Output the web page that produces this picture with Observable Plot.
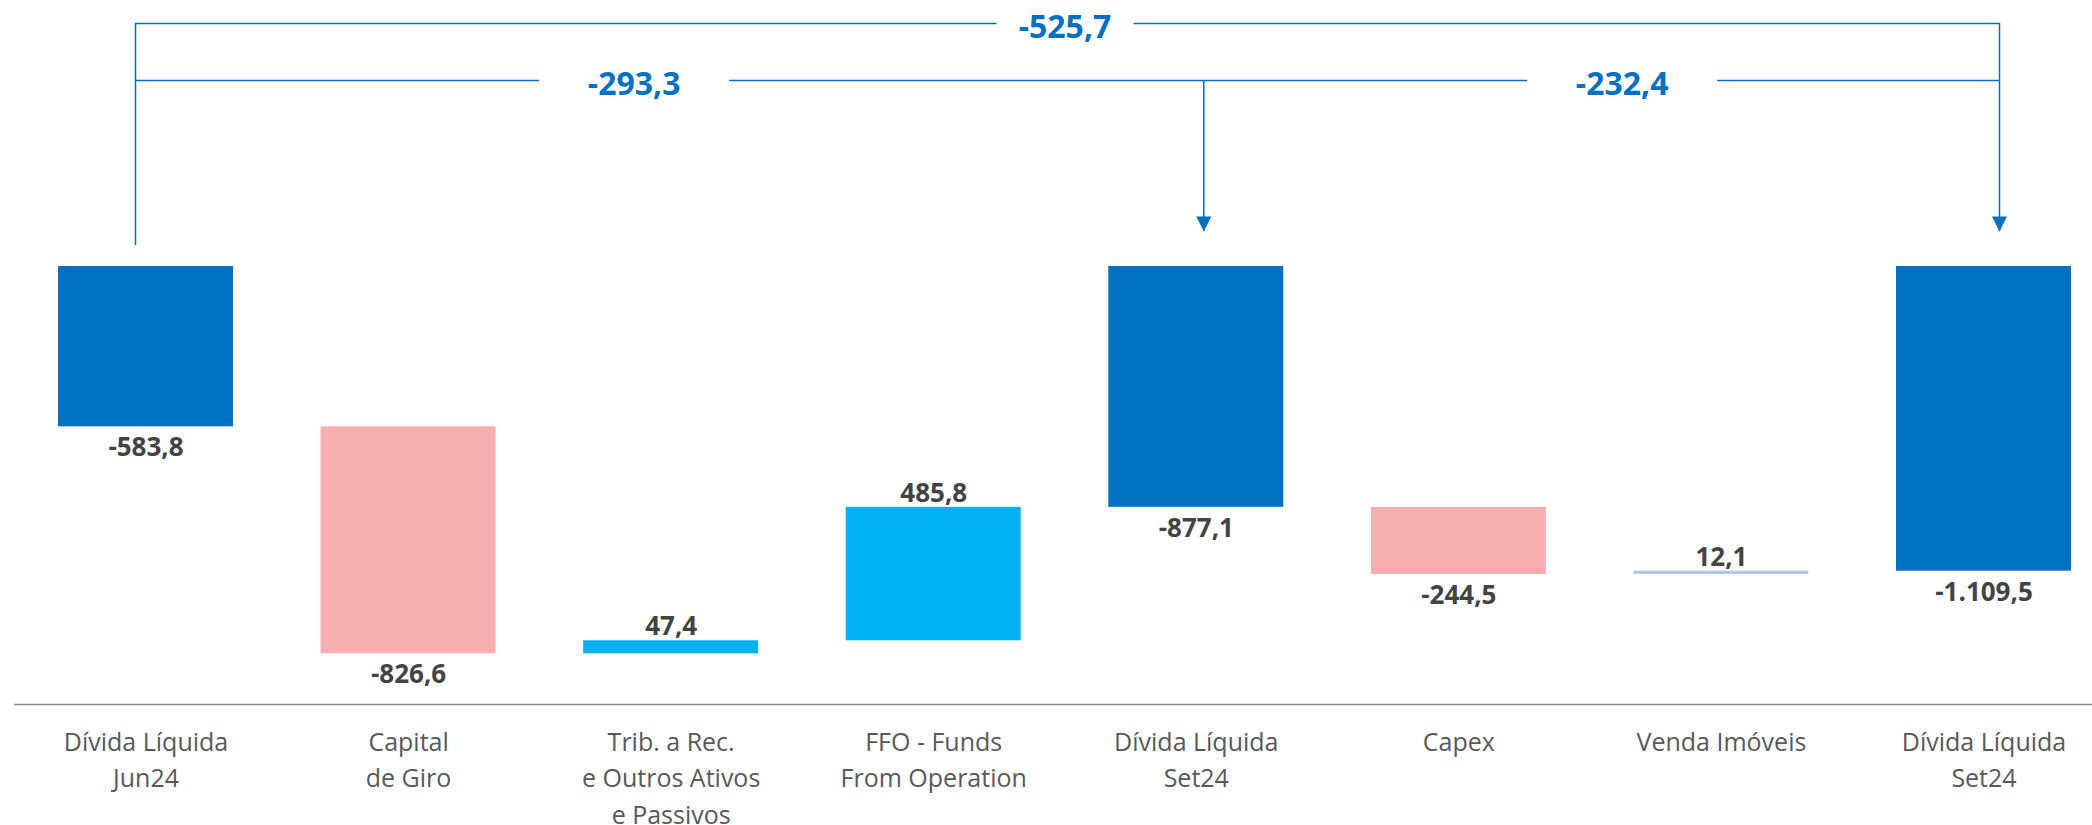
<!DOCTYPE html>
<html>
<head>
<meta charset="utf-8">
<script src="https://cdn.jsdelivr.net/npm/d3@7"></script>
<script src="https://cdn.jsdelivr.net/npm/@observablehq/plot@0.6"></script>
<style>
  html, body { margin: 0; padding: 0; background: #fff; }
  #chart svg { display: block; }
</style>
</head>
<body>
<div id="chart"></div>
<script>
// ---- Data ----
const categories = [
  "Dívida Líquida\nJun24",
  "Capital\nde Giro",
  "Trib. a Rec.\ne Outros Ativos\ne Passivos",
  "FFO - Funds\nFrom Operation",
  "Dívida Líquida\nSet24",
  "Capex",
  "Venda Imóveis",
  "Dívida Líquida\nSet24"
];
const values = [-583.8, -826.6, 47.4, 485.8, -877.1, -244.5, 12.1, -1109.5];
const kinds = ["total", "delta", "delta", "delta", "total", "delta", "delta", "total"];
const barColors = ["#0070C0", "#F7AEB0", "#00B0F0", "#00B0F0", "#0070C0", "#F7AEB0", "#B4C7E7", "#0070C0"];

// Bracket annotations (variation between debt totals)
const bracketValues = [-525.7, -293.3, -232.4];
const bracketFrom = [0, 0, 4];
const bracketTo = [7, 4, 7];
const bracketTier = ["outer", "inner", "inner"];

// ---- Derived waterfall table ----
let running = 0;
const rows = values.map((v, i) => {
  let y1, y2;
  if (kinds[i] === "total") { y1 = 0; y2 = v; running = v; }
  else { y1 = running; y2 = running + v; running += v; }
  return { i, value: v, y1, y2, color: barColors[i], kind: kinds[i],
           low: Math.min(y1, y2), high: Math.max(y1, y2) };
});

const br = d3.formatLocale({decimal: ",", thousands: ".", grouping: [3], currency: ["R$", ""], minus: "-"});
const fmt = br.format(",.1f");

// ---- Layout (scale units) ----
const yMin = -1595;                 // axis baseline
const levels = { outer: 885, inner: 677, legEnd: 76, arrowTip: 127 };
const blue = "#0070C0";

const brackets = bracketValues.map((v, k) => ({
  label: fmt(v), from: bracketFrom[k], to: bracketTo[k],
  mid: (bracketFrom[k] + bracketTo[k]) / 2,
  y: levels[bracketTier[k]], tier: bracketTier[k]
}));
const labelShift = [0, -37, 32];     // pixel nudges of the bracket labels
const gapWidth = [137, 190, 190];    // pixel width of the line gap around each label

const rectSymbol = (w, h) => ({ draw(ctx) { ctx.rect(-w / 2, -h / 2, w, h); } });
const arrowHead = { draw(ctx) { ctx.moveTo(-7.5, -15); ctx.lineTo(7.5, -15); ctx.lineTo(0, 0); ctx.closePath(); } };

const legs = [
  { i: 0, dx: -10.5, top: levels.outer, bottom: levels.legEnd, arrow: false },
  { i: 4, dx: 7.5, top: levels.inner, bottom: levels.arrowTip, arrow: true },
  { i: 7, dx: 15.5, top: levels.outer, bottom: levels.arrowTip, arrow: true }
];

const marks = [
  // axis baseline
  Plot.ruleY([yMin], { stroke: "#8C8C8C", strokeWidth: 1.5 }),
  // bars
  Plot.rectY(rows, {
    x1: d => d.i - 0.5, x2: d => d.i + 0.5, y1: "y1", y2: "y2",
    fill: "color", insetLeft: 43.8, insetRight: 43.8
  }),
  // value labels below (totals and negative changes)
  Plot.text(rows.filter(d => d.kind === "total" || d.value < 0), {
    x: "i", y: "low", text: d => fmt(d.value), dy: 21,
    fontSize: 26, fontWeight: "bold", fill: "#434343", lineAnchor: "middle"
  }),
  // value labels above (positive changes)
  Plot.text(rows.filter(d => d.kind !== "total" && d.value >= 0), {
    x: "i", y: "high", text: d => fmt(d.value), dy: -14,
    fontSize: 26, fontWeight: "bold", fill: "#434343", lineAnchor: "middle"
  }),
  // category labels
  Plot.text(categories.map((c, i) => ({ i, c })), {
    x: "i", y: () => yMin, text: "c", dy: 21, lineAnchor: "top",
    lineHeight: 1.45, fontSize: 25, fill: "#595959"
  }),
  // horizontal bracket lines
  Plot.ruleY([levels.outer], { x1: () => 0, x2: () => 7, stroke: blue, strokeWidth: 1.5, insetLeft: -10.5, insetRight: -15.5 }),
  Plot.ruleY([levels.inner], { x1: () => 0, x2: () => 7, stroke: blue, strokeWidth: 1.5, insetLeft: -10.5, insetRight: -15.5 }),
  // vertical legs
  ...legs.map(l => Plot.ruleX([l], { x: "i", y1: "top", y2: "bottom", dx: l.dx, stroke: blue, strokeWidth: 1.5 })),
  // arrow heads
  ...legs.filter(l => l.arrow).map(l => Plot.dot([l], { x: "i", y: "bottom", dx: l.dx, symbol: arrowHead, fill: blue, stroke: "none" })),
  // white gaps behind bracket labels
  ...brackets.map((b, k) => Plot.dot([b], { x: "mid", y: "y", dx: labelShift[k], symbol: rectSymbol(gapWidth[k], 8), fill: "white", stroke: "none" })),
  // bracket labels
  ...brackets.map((b, k) => Plot.text([b], {
    x: "mid", y: "y", text: "label", dx: labelShift[k], dy: 4,
    fontSize: 32, fontWeight: "bold", fill: blue, lineAnchor: "middle"
  }))
];

const chart = Plot.plot({
  width: 2092,
  height: 825,
  marginTop: 0,
  marginLeft: 14,
  marginRight: 0,
  marginBottom: 121,
  x: { domain: [0, 7], range: [145.5, 1983.5], axis: null },
  y: { domain: [yMin, 0], range: [704, 266], axis: null },
  color: { type: "identity" },
  style: { fontFamily: "'Open Sans', 'Noto Sans', sans-serif", background: "#fff", overflow: "visible" },
  marks
});
document.getElementById("chart").appendChild(chart);
</script>
</body>
</html>
